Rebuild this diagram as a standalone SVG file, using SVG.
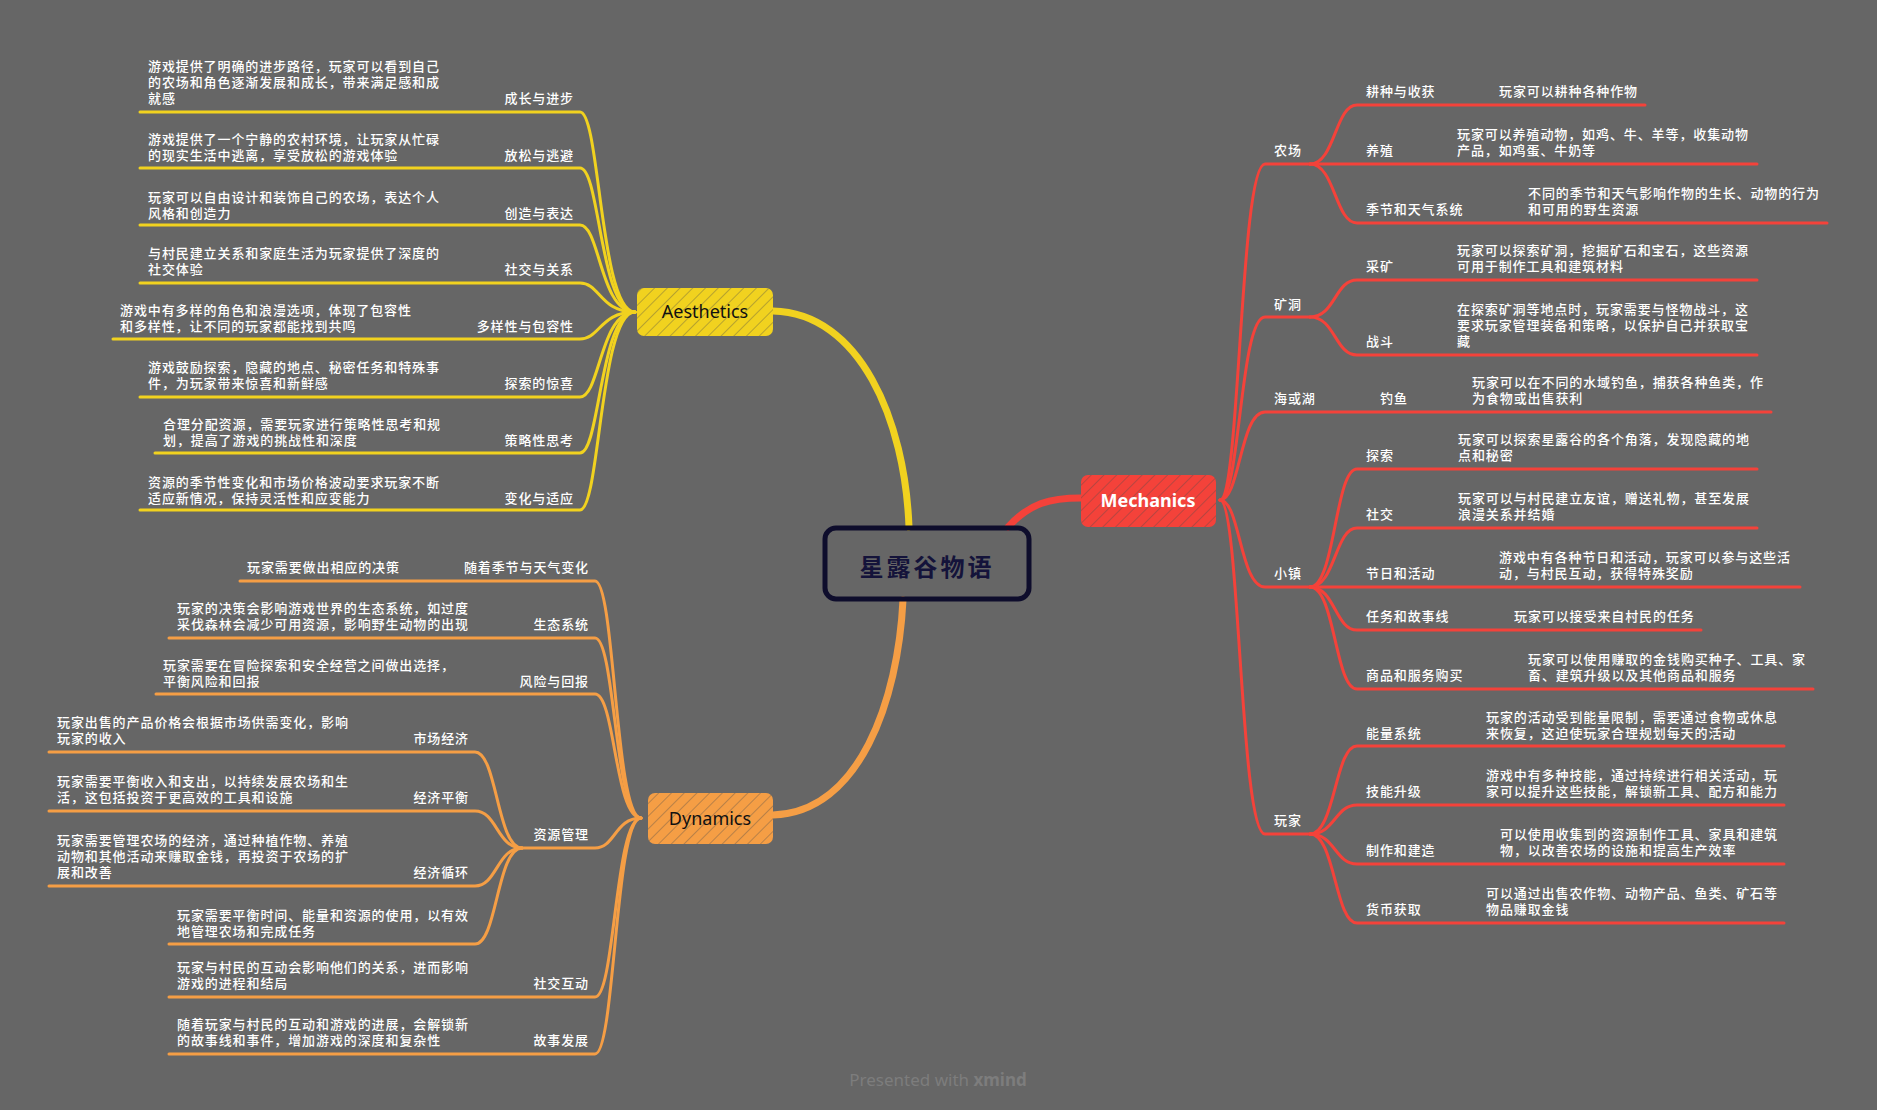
<svg xmlns="http://www.w3.org/2000/svg" width="1877" height="1110" viewBox="0 0 1877 1110">
<style>
.t{font-family:"Noto Sans CJK SC","Noto Sans",sans-serif;font-size:13px;font-weight:500;fill:#fff;letter-spacing:0.9px;dominant-baseline:central}
.r{text-anchor:end}
.ya{stroke:#F1D21F;fill:none;stroke-width:3;stroke-linecap:round}
.or{stroke:#F59E45;fill:none;stroke-width:3;stroke-linecap:round}
.rd{stroke:#F4423A;fill:none;stroke-width:3;stroke-linecap:round}
.main{fill:none;stroke-width:7;stroke-linecap:round}
.nt{font-family:"Noto Sans","Liberation Sans",sans-serif;font-size:18px;text-anchor:middle;dominant-baseline:central}
</style>
<defs>
<pattern id="hatch" width="9" height="9" patternUnits="userSpaceOnUse" patternTransform="rotate(45)">
<line x1="0" y1="0" x2="0" y2="9" stroke="#4a4a4a" stroke-opacity="0.6" stroke-width="1.2"/>
</pattern>
</defs>
<rect x="0" y="0" width="1877" height="1110" fill="#666666"/>

<g id="connectors">
<path class="main" stroke="#F1D21F" d="M773,311 C860,313 905,420 909,527"/>
<path class="main" stroke="#F59E45" d="M903,600 C898,700 860,812 773,815"/>
<path class="main" stroke="#F4423A" d="M1008,527 C1030,503 1050,498 1081,498"/>

<path class="ya" d="M140,112 H580 C600,112 600,312 635,312"/>
<path class="ya" d="M140,168 H580 C600,168 600,312 635,312"/>
<path class="ya" d="M140,225 H580 C600,225 600,312 635,312"/>
<path class="ya" d="M140,283 H580 C600,283 600,312 635,312"/>
<path class="ya" d="M113,339 H580 C600,339 600,312 635,312"/>
<path class="ya" d="M140,397 H580 C600,397 600,312 635,312"/>
<path class="ya" d="M155,453 H580 C600,453 600,312 635,312"/>
<path class="ya" d="M140,510 H580 C600,510 600,312 635,312"/>

<path class="or" d="M240,581 H595 C615,581 615,818 641,818"/>
<path class="or" d="M169,638 H595 C615,638 615,818 641,818"/>
<path class="or" d="M156,694 H595 C615,694 615,818 641,818"/>
<path class="or" d="M522,848 H595 C615,848 615,818 641,818"/>
<path class="or" d="M169,997 H595 C615,997 615,818 641,818"/>
<path class="or" d="M169,1054 H595 C615,1054 615,818 641,818"/>
<path class="or" d="M49,752 H475 C497,752 497,848 522,848"/>
<path class="or" d="M49,811 H475 C497,811 497,848 522,848"/>
<path class="or" d="M49,886 H475 C497,886 497,848 522,848"/>
<path class="or" d="M169,944 H475 C497,944 497,848 522,848"/>

<path class="rd" d="M1220,500 C1240,500 1240,164 1265,164 H1310"/>
<path class="rd" d="M1220,500 C1240,500 1240,317 1265,317 H1310"/>
<path class="rd" d="M1220,500 C1240,500 1240,412 1265,412 H1771"/>
<path class="rd" d="M1220,500 C1240,500 1240,587 1265,587 H1310"/>
<path class="rd" d="M1220,500 C1240,500 1240,834 1265,834 H1310"/>
<path class="rd" d="M1310,164 C1335,164 1335,105 1357,105 H1645"/>
<path class="rd" d="M1310,164 H1757"/>
<path class="rd" d="M1310,164 C1335,164 1335,223 1357,223 H1827"/>
<path class="rd" d="M1310,317 C1335,317 1335,280 1357,280 H1757"/>
<path class="rd" d="M1310,317 C1335,317 1335,355 1357,355 H1757"/>
<path class="rd" d="M1310,587 C1335,587 1335,469 1357,469 H1757"/>
<path class="rd" d="M1310,587 C1335,587 1335,528 1357,528 H1757"/>
<path class="rd" d="M1310,587 H1800"/>
<path class="rd" d="M1310,587 C1335,587 1335,630 1357,630 H1701"/>
<path class="rd" d="M1310,587 C1335,587 1335,689 1357,689 H1813"/>
<path class="rd" d="M1310,834 C1335,834 1335,746 1357,746 H1784"/>
<path class="rd" d="M1310,834 C1335,834 1335,805 1357,805 H1784"/>
<path class="rd" d="M1310,834 C1335,834 1335,864 1357,864 H1784"/>
<path class="rd" d="M1310,834 C1335,834 1335,923 1357,923 H1784"/>
</g>

<g id="root">
<rect x="825" y="528" width="204" height="71" rx="11" fill="none" stroke="#0E0D2C" stroke-width="5"/>
<text x="927" y="565" font-family="Noto Sans CJK SC,sans-serif" font-size="24" font-weight="bold" fill="#14133A" text-anchor="middle" dominant-baseline="central" letter-spacing="3">星露谷物语</text>
</g>

<g id="aesthetics">
<rect x="637" y="288" width="136" height="48" rx="7" fill="#F1D21F"/>
<rect x="637" y="288" width="136" height="48" rx="7" fill="url(#hatch)"/>
<text class="nt" x="705" y="311" fill="#111">Aesthetics</text>
</g>
<g id="mechanics">
<rect x="1081" y="475" width="135" height="52" rx="7" fill="#F4423A"/>
<rect x="1081" y="475" width="135" height="52" rx="7" fill="url(#hatch)"/>
<text class="nt" x="1148" y="500" fill="#fff" font-weight="bold">Mechanics</text>
</g>
<g id="dynamics">
<rect x="648" y="793" width="125" height="51" rx="7" fill="#F59E45"/>
<rect x="648" y="793" width="125" height="51" rx="7" fill="url(#hatch)"/>
<text class="nt" x="710" y="818" fill="#111">Dynamics</text>
</g>

<g id="a1"><text class="t r" x="574" y="97">成长与进步</text><text class="t" x="148" y="65">游戏提供了明确的进步路径，玩家可以看到自己</text><text class="t" x="148" y="81">的农场和角色逐渐发展和成长，带来满足感和成</text><text class="t" x="148" y="97">就感</text></g>
<g id="a2"><text class="t r" x="574" y="154">放松与逃避</text><text class="t" x="148" y="138">游戏提供了一个宁静的农村环境，让玩家从忙碌</text><text class="t" x="148" y="154">的现实生活中逃离，享受放松的游戏体验</text></g>
<g id="a3"><text class="t r" x="574" y="212">创造与表达</text><text class="t" x="148" y="196">玩家可以自由设计和装饰自己的农场，表达个人</text><text class="t" x="148" y="212">风格和创造力</text></g>
<g id="a4"><text class="t r" x="574" y="268">社交与关系</text><text class="t" x="148" y="252">与村民建立关系和家庭生活为玩家提供了深度的</text><text class="t" x="148" y="268">社交体验</text></g>
<g id="a5"><text class="t r" x="574" y="325">多样性与包容性</text><text class="t" x="120" y="309">游戏中有多样的角色和浪漫选项，体现了包容性</text><text class="t" x="120" y="325">和多样性，让不同的玩家都能找到共鸣</text></g>
<g id="a6"><text class="t r" x="574" y="382">探索的惊喜</text><text class="t" x="148" y="366">游戏鼓励探索，隐藏的地点、秘密任务和特殊事</text><text class="t" x="148" y="382">件，为玩家带来惊喜和新鲜感</text></g>
<g id="a7"><text class="t r" x="574" y="439">策略性思考</text><text class="t" x="163" y="423">合理分配资源，需要玩家进行策略性思考和规</text><text class="t" x="163" y="439">划，提高了游戏的挑战性和深度</text></g>
<g id="a8"><text class="t r" x="574" y="497">变化与适应</text><text class="t" x="148" y="481">资源的季节性变化和市场价格波动要求玩家不断</text><text class="t" x="148" y="497">适应新情况，保持灵活性和应变能力</text></g>

<g id="d1"><text class="t r" x="589" y="566">随着季节与天气变化</text><text class="t" x="247" y="566">玩家需要做出相应的决策</text></g>
<g id="d2"><text class="t r" x="589" y="623">生态系统</text><text class="t" x="177" y="607">玩家的决策会影响游戏世界的生态系统，如过度</text><text class="t" x="177" y="623">采伐森林会减少可用资源，影响野生动物的出现</text></g>
<g id="d3"><text class="t r" x="589" y="680">风险与回报</text><text class="t" x="163" y="664">玩家需要在冒险探索和安全经营之间做出选择，</text><text class="t" x="163" y="680">平衡风险和回报</text></g>
<g id="d4"><text class="t r" x="589" y="833">资源管理</text></g>
<g id="d4a"><text class="t r" x="469" y="737">市场经济</text><text class="t" x="57" y="721">玩家出售的产品价格会根据市场供需变化，影响</text><text class="t" x="57" y="737">玩家的收入</text></g>
<g id="d4b"><text class="t r" x="469" y="796">经济平衡</text><text class="t" x="57" y="780">玩家需要平衡收入和支出，以持续发展农场和生</text><text class="t" x="57" y="796">活，这包括投资于更高效的工具和设施</text></g>
<g id="d4c"><text class="t r" x="469" y="871">经济循环</text><text class="t" x="57" y="839">玩家需要管理农场的经济，通过种植作物、养殖</text><text class="t" x="57" y="855">动物和其他活动来赚取金钱，再投资于农场的扩</text><text class="t" x="57" y="871">展和改善</text></g>
<g id="d4d"><text class="t" x="177" y="914">玩家需要平衡时间、能量和资源的使用，以有效</text><text class="t" x="177" y="930">地管理农场和完成任务</text></g>
<g id="d5"><text class="t r" x="589" y="982">社交互动</text><text class="t" x="177" y="966">玩家与村民的互动会影响他们的关系，进而影响</text><text class="t" x="177" y="982">游戏的进程和结局</text></g>
<g id="d6"><text class="t r" x="589" y="1039">故事发展</text><text class="t" x="177" y="1023">随着玩家与村民的互动和游戏的进展，会解锁新</text><text class="t" x="177" y="1039">的故事线和事件，增加游戏的深度和复杂性</text></g>

<g id="m1"><text class="t" x="1274" y="149">农场</text></g>
<g id="m2"><text class="t" x="1274" y="303">矿洞</text></g>
<g id="m3"><text class="t" x="1274" y="397">海或湖</text></g>
<g id="m4"><text class="t" x="1274" y="572">小镇</text></g>
<g id="m5"><text class="t" x="1274" y="819">玩家</text></g>

<g id="m1a"><text class="t" x="1366" y="90">耕种与收获</text><text class="t" x="1499" y="90">玩家可以耕种各种作物</text></g>
<g id="m1b"><text class="t" x="1366" y="149">养殖</text><text class="t" x="1457" y="133">玩家可以养殖动物，如鸡、牛、羊等，收集动物</text><text class="t" x="1457" y="149">产品，如鸡蛋、牛奶等</text></g>
<g id="m1c"><text class="t" x="1366" y="208">季节和天气系统</text><text class="t" x="1528" y="192">不同的季节和天气影响作物的生长、动物的行为</text><text class="t" x="1528" y="208">和可用的野生资源</text></g>
<g id="m2a"><text class="t" x="1366" y="265">采矿</text><text class="t" x="1457" y="249">玩家可以探索矿洞，挖掘矿石和宝石，这些资源</text><text class="t" x="1457" y="265">可用于制作工具和建筑材料</text></g>
<g id="m2b"><text class="t" x="1366" y="340">战斗</text><text class="t" x="1457" y="308">在探索矿洞等地点时，玩家需要与怪物战斗，这</text><text class="t" x="1457" y="324">要求玩家管理装备和策略，以保护自己并获取宝</text><text class="t" x="1457" y="340">藏</text></g>
<g id="m3a"><text class="t" x="1380" y="397">钓鱼</text><text class="t" x="1472" y="381">玩家可以在不同的水域钓鱼，捕获各种鱼类，作</text><text class="t" x="1472" y="397">为食物或出售获利</text></g>
<g id="m4a"><text class="t" x="1366" y="454">探索</text><text class="t" x="1458" y="438">玩家可以探索星露谷的各个角落，发现隐藏的地</text><text class="t" x="1458" y="454">点和秘密</text></g>
<g id="m4b"><text class="t" x="1366" y="513">社交</text><text class="t" x="1458" y="497">玩家可以与村民建立友谊，赠送礼物，甚至发展</text><text class="t" x="1458" y="513">浪漫关系并结婚</text></g>
<g id="m4c"><text class="t" x="1366" y="572">节日和活动</text><text class="t" x="1499" y="556">游戏中有各种节日和活动，玩家可以参与这些活</text><text class="t" x="1499" y="572">动，与村民互动，获得特殊奖励</text></g>
<g id="m4d"><text class="t" x="1366" y="615">任务和故事线</text><text class="t" x="1514" y="615">玩家可以接受来自村民的任务</text></g>
<g id="m4e"><text class="t" x="1366" y="674">商品和服务购买</text><text class="t" x="1528" y="658">玩家可以使用赚取的金钱购买种子、工具、家</text><text class="t" x="1528" y="674">畜、建筑升级以及其他商品和服务</text></g>
<g id="m5a"><text class="t" x="1366" y="732">能量系统</text><text class="t" x="1486" y="716">玩家的活动受到能量限制，需要通过食物或休息</text><text class="t" x="1486" y="732">来恢复，这迫使玩家合理规划每天的活动</text></g>
<g id="m5b"><text class="t" x="1366" y="790">技能升级</text><text class="t" x="1486" y="774">游戏中有多种技能，通过持续进行相关活动，玩</text><text class="t" x="1486" y="790">家可以提升这些技能，解锁新工具、配方和能力</text></g>
<g id="m5c"><text class="t" x="1366" y="849">制作和建造</text><text class="t" x="1500" y="833">可以使用收集到的资源制作工具、家具和建筑</text><text class="t" x="1500" y="849">物，以改善农场的设施和提高生产效率</text></g>
<g id="m5d"><text class="t" x="1366" y="908">货币获取</text><text class="t" x="1486" y="892">可以通过出售农作物、动物产品、鱼类、矿石等</text><text class="t" x="1486" y="908">物品赚取金钱</text></g>

<text x="938" y="1079" font-family="Noto Sans,sans-serif" font-size="17" fill="#7d7d7d" text-anchor="middle" dominant-baseline="central">Presented with <tspan font-weight="bold">xmind</tspan></text>
</svg>
